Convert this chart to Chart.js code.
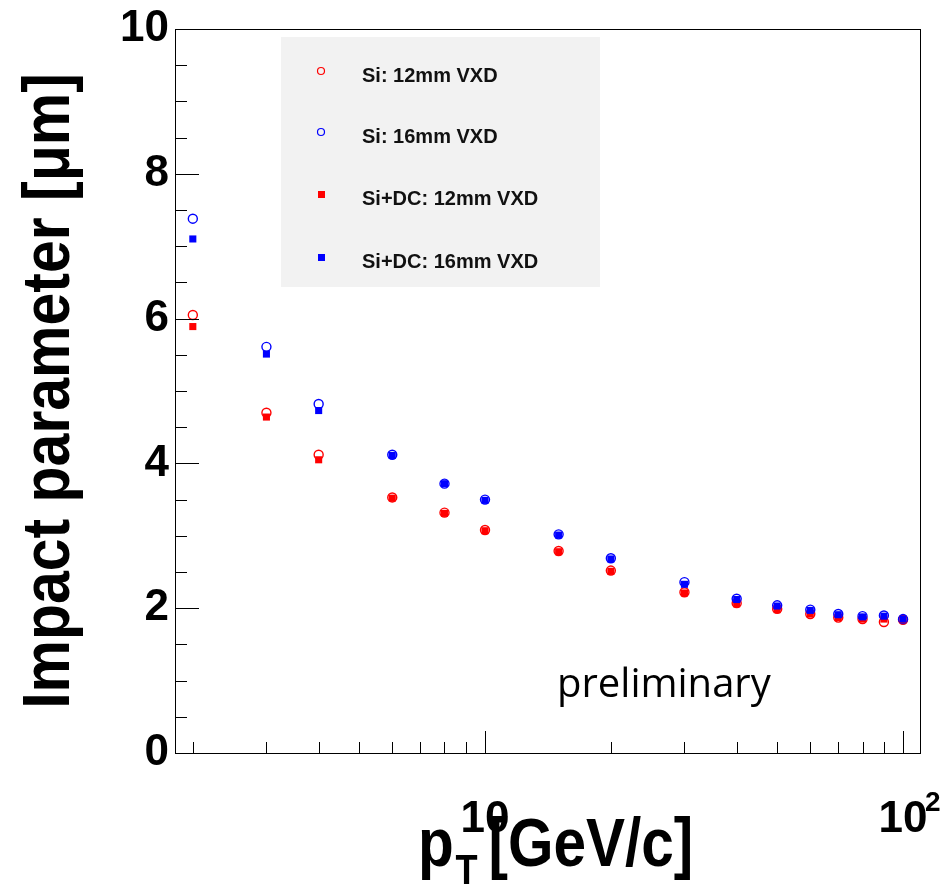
<!DOCTYPE html>
<html>
<head>
<meta charset="utf-8">
<script src="https://cdn.jsdelivr.net/npm/chart.js@4.4.1/dist/chart.umd.min.js"></script>
<style>
    html, body { margin: 0; padding: 0; background: #fff; }
    #wrap { width: 950px; height: 889px; }
</style>
</head>
<body>
<div id="wrap"><canvas id="myChart"></canvas></div>
<script>
// pT points [GeV/c]
var ptValues = [2, 3, 4, 6, 8, 10, 15, 20, 30, 40, 50, 60, 70, 80, 90, 100];
// impact parameter resolution [um]
var si12 = [6.05, 4.70, 4.12, 3.53, 3.32, 3.08, 2.79, 2.52, 2.22, 2.07, 1.99, 1.92, 1.87, 1.85, 1.81, 1.84];
var si16 = [7.38, 5.61, 4.82, 4.12, 3.72, 3.50, 3.02, 2.69, 2.36, 2.13, 2.04, 1.98, 1.92, 1.89, 1.90, 1.85];
var siDc12 = [5.89, 4.64, 4.05, 3.52, 3.31, 3.07, 2.78, 2.51, 2.21, 2.06, 1.98, 1.92, 1.87, 1.85, 1.85, 1.84];
var siDc16 = [7.10, 5.51, 4.73, 4.11, 3.72, 3.49, 3.01, 2.68, 2.33, 2.12, 2.03, 1.97, 1.91, 1.88, 1.89, 1.85];

var seriesLabels = ["Si: 12mm VXD", "Si: 16mm VXD", "Si+DC: 12mm VXD", "Si+DC: 16mm VXD"];
var xLabelValues = [10, 100];
var xTickValues = [2, 3, 4, 5, 6, 7, 8, 9, 10, 20, 30, 40, 50, 60, 70, 80, 90, 100];

function toPoints(arr) {
    var pts = [];
    for (var i = 0; i < ptValues.length; i++) {
        pts.push({ x: ptValues[i], y: arr[i] });
    }
    return pts;
}

var BOLD = "'Liberation Sans', Arial, Helvetica, sans-serif";

var extras = {
    id: "extras",
    afterDraw: function (chart) {
        var ctx = chart.ctx;
        var a = chart.chartArea;
        var xs = chart.scales.x, ys = chart.scales.y;
        ctx.save();
        ctx.strokeStyle = "#000";
        ctx.lineWidth = 1;
        // frame
        ctx.strokeRect(Math.round(a.left) + 0.5, Math.round(a.top) + 0.5,
            Math.round(a.right - a.left), Math.round(a.bottom - a.top));
        ctx.beginPath();
        for (var v = 0; v <= 10; v += 0.5) {
            var py = Math.round(ys.getPixelForValue(v)) + 0.5;
            var len = (v % 2 === 0) ? 24 : 12;
            ctx.moveTo(a.left, py);
            ctx.lineTo(a.left + len, py);
        }
        xTickValues.forEach(function (t) {
            var px = Math.round(xs.getPixelForValue(t)) + 0.5;
            var len = (t === 10 || t === 100) ? 22 : 11;
            ctx.moveTo(px, a.bottom);
            ctx.lineTo(px, a.bottom - len);
        });
        ctx.stroke();

        // exponent of the 10^2 label
        ctx.fillStyle = "#000";
        ctx.font = "bold 28px " + BOLD;
        ctx.textAlign = "left";
        ctx.textBaseline = "alphabetic";
        ctx.fillText("2", xs.getPixelForValue(100) + 22, 811);

        // y title (condensed bold)
        ctx.save();
        ctx.translate(69, (a.top + a.bottom) / 2);
        ctx.rotate(-Math.PI / 2);
        ctx.scale(0.88, 1);
        ctx.font = "bold 67px " + BOLD;
        ctx.textAlign = "center";
        ctx.fillText("Impact parameter [\u03bcm]", 0, 0);
        ctx.restore();

        // x title with subscript
        ctx.save();
        ctx.translate(418, 866);
        ctx.scale(0.86, 1);
        ctx.textAlign = "left";
        ctx.font = "bold 68px " + BOLD;
        ctx.fillText("p", 0, 0);
        var wp = ctx.measureText("p").width;
        ctx.font = "bold 42px " + BOLD;
        ctx.fillText("T", wp + 2, 18);
        var wt = ctx.measureText("T").width;
        ctx.font = "bold 68px " + BOLD;
        ctx.fillText(" [GeV/c]", wp + wt - 4, 0);
        ctx.restore();

        // legend box
        ctx.fillStyle = "#f2f2f2";
        ctx.fillRect(281, 37, 319, 250);
        var rows = [71, 132, 194, 257];
        ctx.font = "bold 20px " + BOLD;
        ctx.textBaseline = "middle";
        chart.data.datasets.forEach(function (ds, i) {
            var my = rows[i];
            ctx.strokeStyle = ds.borderColor;
            ctx.fillStyle = ds.borderColor;
            if (ds.pointStyle === "circle") {
                ctx.lineWidth = 1.2;
                ctx.beginPath();
                ctx.arc(321, my, 3.5, 0, Math.PI * 2);
                ctx.stroke();
            } else {
                ctx.fillRect(318, my - 3, 7, 7);
            }
            ctx.fillStyle = "#111";
            ctx.fillText(ds.label, 362, my + 5);
        });

        // preliminary
        ctx.fillStyle = "#000";
        ctx.font = "40px 'Open Sans', 'Noto Sans', sans-serif";
        ctx.textBaseline = "alphabetic";
        ctx.fillText("preliminary", 557, 697);
        ctx.restore();
    }
};

var ctxEl = document.getElementById("myChart");
var myChart = new Chart(ctxEl, {
    type: "scatter",
    data: {
        datasets: [
            {
                label: seriesLabels[0], data: toPoints(si12), order: 4,
                pointStyle: "circle", pointRadius: 4.5, borderWidth: 1.4,
                borderColor: "#ff0000", backgroundColor: "rgba(255,255,255,0)",
            },
            {
                label: seriesLabels[1], data: toPoints(si16), order: 3,
                pointStyle: "circle", pointRadius: 4.5, borderWidth: 1.4,
                borderColor: "#0000ff", backgroundColor: "rgba(255,255,255,0)",
            },
            {
                label: seriesLabels[2], data: toPoints(siDc12), order: 2,
                pointStyle: "rect", pointRadius: 5, borderWidth: 0,
                borderColor: "#ff0000", backgroundColor: "#ff0000",
            },
            {
                label: seriesLabels[3], data: toPoints(siDc16), order: 1,
                pointStyle: "rect", pointRadius: 5, borderWidth: 0,
                borderColor: "#0000ff", backgroundColor: "#0000ff",
            },
        ],
    },
    options: {
        responsive: true,
        maintainAspectRatio: false,
        animation: false,
        layout: { padding: { top: 29, right: 30, left: 0, bottom: 0 } },
        plugins: {
            legend: { display: false },
            tooltip: { enabled: false },
        },
        scales: {
            x: {
                type: "logarithmic",
                min: 1.813,
                max: 109.8,
                grid: { display: false, drawTicks: false },
                border: { display: true, color: "#000", width: 1 },
                afterBuildTicks: function (scale) {
                    scale.ticks = xLabelValues.map(function (v) { return { value: v }; });
                },
                afterFit: function (scale) {
                    scale.height = 136;
                    scale.paddingLeft = 0;
                    scale.paddingRight = 0;
                },
                ticks: {
                    autoSkip: false,
                    maxRotation: 0,
                    padding: 40,
                    color: "#000",
                    font: { family: BOLD, size: 44, weight: "bold" },
                    callback: function (value) {
                        return xLabelValues.indexOf(value) >= 0 ? "10" : "";
                    },
                },
            },
            y: {
                type: "linear",
                min: 0,
                max: 10,
                grid: { display: false, drawTicks: false },
                border: { display: true, color: "#000", width: 1 },
                afterFit: function (scale) {
                    scale.width = 175;
                    scale.paddingTop = 0;
                    scale.paddingBottom = 0;
                },
                ticks: {
                    stepSize: 2,
                    padding: 6,
                    color: "#000",
                    font: { family: BOLD, size: 44, weight: "bold" },
                },
            },
        },
    },
    plugins: [extras],
});
</script>
</body>
</html>
